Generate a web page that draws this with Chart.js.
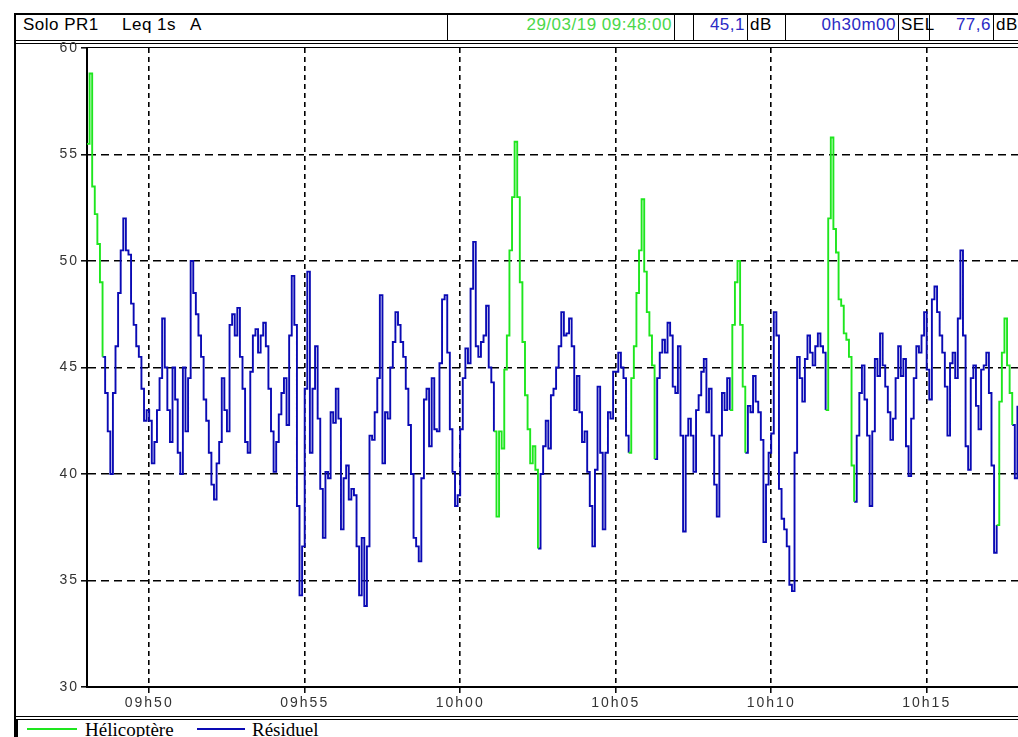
<!DOCTYPE html>
<html>
<head>
<meta charset="utf-8">
<script src="https://cdn.jsdelivr.net/npm/chart.js@4.4.1/dist/chart.umd.min.js"></script>
<style>
  body { margin: 0; background: #fff; width: 1018px; height: 737px; overflow: hidden; position: relative; }
  .line { position: absolute; background: #000; }
  .cell { position: absolute; top: 15px; height: 26px; line-height: 27px; border-left: 1px solid #000;
          font: 17px "Liberation Sans", Arial, sans-serif; letter-spacing: 0.5px; white-space: nowrap; box-sizing: border-box; }
  .cell span { position: absolute; top: 0; }
  .r { text-align: right; padding-right: 2px; }
  .l { padding-left: 2px; }
  .blue { color: #2a2ac4; }
  .green { color: #4ad84a; }
  .legend { position: absolute; top: 719px; font: 19px "Liberation Serif", "Times New Roman", serif; }
  canvas { position: absolute; left: 0; top: 0; }
</style>
</head>
<body>
<!-- frame and header -->
<div class="line" style="left:14px;top:13px;width:1010px;height:2px"></div>
<div class="line" style="left:14px;top:13px;width:2px;height:730px"></div>
<div class="line" style="left:14px;top:40px;width:1010px;height:1px"></div>
<div class="line" style="left:14px;top:43px;width:1010px;height:1px"></div>
<div class="line" style="left:86px;top:47px;width:940px;height:1px"></div>
<div class="line" style="left:14px;top:716px;width:1010px;height:1px"></div>
<div class="line" style="left:14px;top:719px;width:1010px;height:1px"></div>
<div class="line" style="left:15px;top:719px;width:3px;height:20px"></div>

<div class="cell" style="left:16px;width:431px;border-left:none"><span style="left:7px">Solo PR1</span><span style="left:106px">Leq 1s</span><span style="left:174px">A</span></div>
<div class="cell r green" style="left:447px;width:227px">29/03/19 09:48:00</div>
<div class="cell" style="left:674px;width:19px"></div>
<div class="cell r blue" style="left:693px;width:54px">45,1</div>
<div class="cell l" style="left:747px;width:38px">dB</div>
<div class="cell r blue" style="left:785px;width:113px">0h30m00</div>
<div class="cell l" style="left:898px;width:31px">SEL</div>
<div class="cell r blue" style="left:929px;width:64px">77,6</div>
<div class="cell l" style="left:993px;width:40px">dB</div>

<!-- legend -->
<div class="line" style="left:27px;top:728px;width:50px;height:2px;background:#1ee61e"></div>
<div class="legend" style="left:85px">Hélicoptère</div>
<div class="line" style="left:197px;top:728px;width:48px;height:2px;background:#0a0ab4"></div>
<div class="legend" style="left:252px">Résiduel</div>

<canvas id="chart" width="1040" height="737" style="width:1040px;height:737px"></canvas>

<script>
// Leq 1s A, one reading every 5 s from 09:48:00 (one row per minute)
const stepSeconds = 5;
const levels = [
  55.5, 58.8, 53.5, 52.2, 50.8, 49.0, 45.5, 43.8, 42.0, 40.0, 43.8, 46.0, // 09h48
  48.5, 50.5, 52.0, 50.5, 50.3, 48.0, 47.0, 46.0, 45.5, 44.0, 42.5, 43.0, // 09h49
  42.5, 40.5, 41.5, 43.0, 44.5, 47.3, 45.0, 43.0, 41.5, 45.0, 43.5, 41.0, // 09h50
  40.0, 45.0, 42.0, 44.5, 50.0, 48.5, 47.5, 46.5, 45.5, 43.5, 42.5, 41.0, // 09h51
  39.5, 38.8, 40.5, 41.5, 44.5, 43.0, 42.0, 47.0, 47.5, 46.5, 47.8, 45.5, // 09h52
  44.0, 41.5, 41.0, 44.8, 46.5, 46.8, 45.7, 46.5, 47.1, 46.0, 44.0, 42.0, // 09h53
  40.1, 41.5, 42.8, 43.8, 44.5, 42.3, 46.5, 49.3, 47.0, 38.5, 34.3, 36.6, // 09h54
  44.0, 49.5, 41.0, 44.0, 46.0, 42.6, 39.3, 37.0, 40.1, 39.8, 42.9, 42.4, // 09h55
  44.0, 42.6, 37.4, 39.8, 40.4, 38.8, 39.3, 39.0, 36.6, 34.3, 37.0, 33.8, // 09h56
  36.6, 41.8, 41.6, 42.9, 44.5, 48.4, 40.5, 42.9, 42.6, 45.0, 46.2, 47.6, // 09h57
  47.0, 46.2, 45.5, 44.0, 42.3, 40.0, 37.0, 36.6, 35.9, 39.8, 43.5, 44.0, // 09h58
  41.3, 44.5, 42.1, 42.0, 45.2, 48.2, 48.4, 45.7, 42.1, 40.1, 38.5, 39.0, // 09h59
  42.1, 44.5, 45.9, 45.2, 48.7, 50.9, 46.0, 45.5, 46.2, 46.5, 47.9, 45.0, // 10h00
  44.3, 42.0, 38.0, 42.0, 41.2, 44.9, 46.5, 50.5, 53.0, 55.6, 53.0, 49.0, // 10h01
  46.2, 43.7, 42.1, 40.5, 41.3, 40.2, 36.5, 40.0, 41.3, 42.5, 41.2, 43.7, // 10h02
  44.0, 45.0, 46.0, 47.6, 46.5, 46.6, 47.3, 46.0, 43.0, 44.6, 42.9, 41.5, // 10h03
  42.0, 40.1, 38.5, 36.6, 40.2, 44.1, 41.0, 37.4, 41.0, 42.9, 42.6, 44.8, // 10h04
  44.8, 45.7, 45.0, 44.5, 41.8, 41.0, 44.5, 46.0, 48.5, 50.5, 52.9, 49.5, // 10h05
  47.6, 46.5, 45.1, 40.7, 44.5, 45.7, 46.3, 45.7, 47.1, 46.5, 44.1, 43.8, // 10h06
  46.0, 41.8, 37.3, 41.8, 42.6, 41.8, 40.1, 43.0, 43.7, 44.8, 45.4, 42.9, // 10h07
  44.0, 41.8, 39.5, 38.0, 41.8, 43.8, 43.0, 44.5, 43.0, 47.0, 49.0, 50.0, // 10h08
  47.0, 44.1, 41.0, 43.2, 42.9, 44.6, 43.4, 42.9, 41.6, 36.8, 39.5, 41.0, // 10h09
  41.9, 47.6, 46.5, 39.3, 37.9, 37.4, 36.6, 34.8, 34.5, 41.0, 45.5, 44.5, // 10h10
  43.4, 45.4, 46.5, 45.7, 45.1, 46.0, 46.6, 46.0, 45.7, 43.0, 52.0, 55.8, // 10h11
  51.5, 50.4, 48.2, 47.9, 46.6, 46.3, 45.5, 40.4, 38.7, 41.8, 43.8, 45.1, // 10h12
  43.5, 41.8, 38.5, 42.0, 45.4, 44.6, 46.6, 45.1, 44.1, 42.9, 41.6, 42.6, // 10h13
  44.5, 46.0, 44.6, 45.4, 41.3, 39.9, 42.6, 44.5, 46.0, 45.7, 46.5, 47.6, // 10h14
  44.9, 43.5, 48.2, 48.8, 47.6, 46.5, 45.7, 44.1, 41.8, 45.2, 45.7, 44.5, // 10h15
  47.3, 50.5, 46.5, 41.3, 40.2, 44.5, 45.1, 43.2, 42.1, 44.9, 45.1, 45.7, // 10h16
  43.8, 40.4, 36.3, 37.6, 43.4, 45.7, 47.3, 45.1, 43.8, 42.3, 39.8, 43.2  // 10h17
];

// helicopter passages, seconds since 09:48:00
const heliSegments = [[0, 25], [785, 865], [1045, 1090], [1240, 1265], [1425, 1475], [1755, 1780]];

const tickSeconds = [120, 420, 720, 1020, 1320, 1620];
const tickLabels = ['09h50', '09h55', '10h00', '10h05', '10h10', '10h15'];

const heliColor = '#1ee61e';
const residColor = '#0a0ab4';

function inHeli(t) {
  return heliSegments.some(([a, b]) => t >= a && t <= b);
}

// split one trace into two series, sharing the points where they meet
const heliData = [];
const residData = [];
levels.forEach((v, i) => {
  const t = i * stepSeconds;
  const h = inHeli(t);
  const hPrev = i > 0 && inHeli(t - stepSeconds);
  heliData.push({ x: t, y: (h || hPrev) ? v : null });
  residData.push({ x: t, y: (!h || (i > 0 && !hPrev)) ? v : null });
});

const spacing = {
  id: 'spacing',
  beforeDraw(chart) { chart.ctx.letterSpacing = '2px'; }
};

new Chart(document.getElementById('chart').getContext('2d'), {
  type: 'line',
  data: {
    datasets: [{
      label: 'Hélicoptère',
      data: heliData,
      borderColor: heliColor,
      borderWidth: 1.9,
      pointRadius: 0,
      stepped: true,
      spanGaps: false
    }, {
      label: 'Résiduel',
      data: residData,
      borderColor: residColor,
      borderWidth: 1.9,
      pointRadius: 0,
      stepped: true,
      spanGaps: false
    }]
  },
  options: {
    responsive: false,
    animation: false,
    devicePixelRatio: 1,
    layout: { padding: { left: 0, top: 48, right: 20, bottom: 20 } },
    plugins: { legend: { display: false }, tooltip: { enabled: false } },
    scales: {
      x: {
        type: 'linear',
        min: 0,
        max: 1800,
        afterFit: s => { s.height = 30; },
        afterBuildTicks: s => { s.ticks = tickSeconds.map(v => ({ value: v })); },
        ticks: {
          autoSkip: false,
          maxRotation: 0,
          padding: 2,
          color: '#333',
          font: { family: 'Liberation Sans', size: 14 },
          callback: v => tickLabels[tickSeconds.indexOf(v)]
        },
        grid: { color: '#000', lineWidth: 1.6, tickLength: 6, tickColor: '#000', tickWidth: 1.5 },
        border: { color: '#000', width: 2, dash: [5, 4] }
      },
      y: {
        min: 30,
        max: 60,
        afterFit: s => { s.width = 87; },
        ticks: {
          stepSize: 5,
          padding: 2,
          color: '#333',
          font: { family: 'Liberation Sans', size: 14 }
        },
        grid: {
          color: c => (c.tick && (c.tick.value === 30 || c.tick.value === 60)) ? 'rgba(0,0,0,0)' : '#000',
          lineWidth: 1.6,
          tickLength: 6,
          tickColor: '#000',
          tickWidth: 1.5
        },
        border: { color: '#000', width: 2, dash: [8, 5] }
      }
    }
  },
  plugins: [spacing]
});
</script>
</body>
</html>
